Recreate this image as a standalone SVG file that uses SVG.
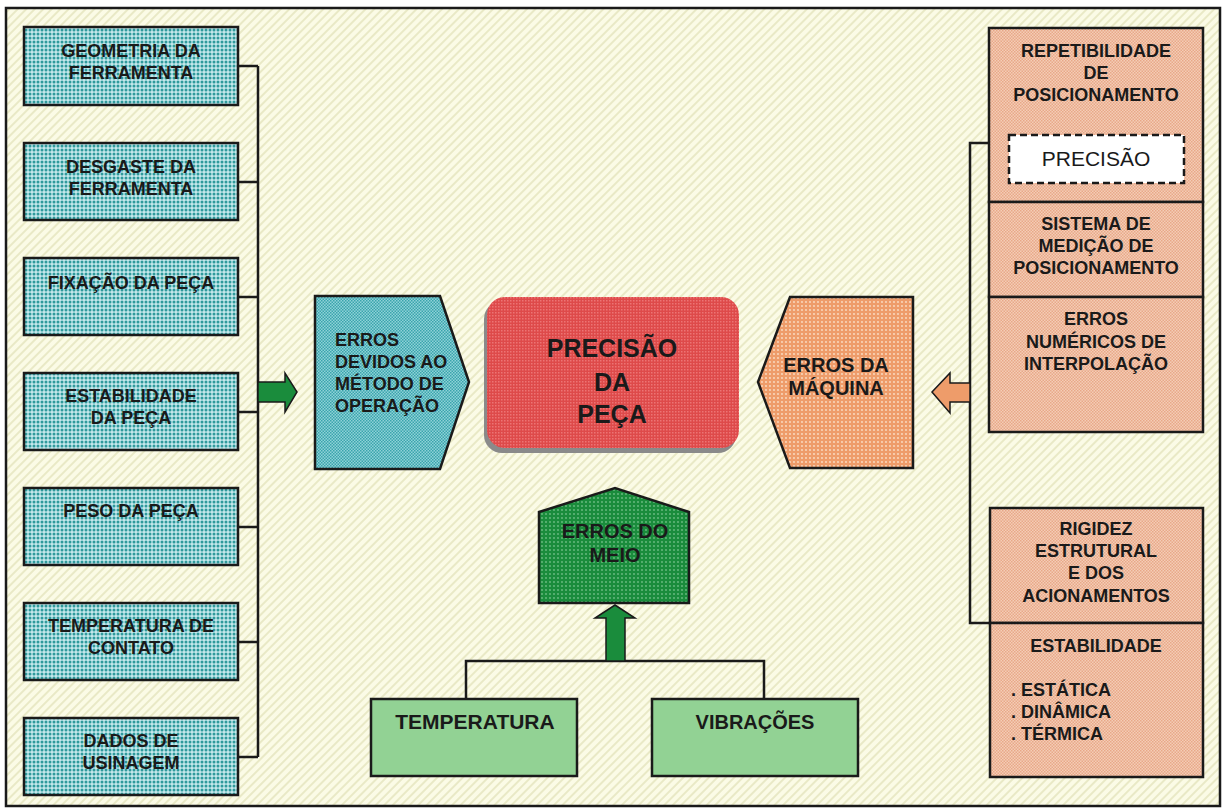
<svg xmlns="http://www.w3.org/2000/svg" width="1224" height="812" viewBox="0 0 1224 812">
<defs>
<pattern id="bg" width="6" height="6" patternUnits="userSpaceOnUse" patternTransform="rotate(45)">
<rect width="6" height="6" fill="#fbfbe6"/>
<rect width="2" height="6" fill="#e9e9c6"/>
</pattern>
<pattern id="pBlue" width="4" height="4" patternUnits="userSpaceOnUse">
<rect width="4" height="4" fill="#c4e8ec"/>
<circle cx="2" cy="2" r="1.5" fill="#2f9a9c"/>
</pattern>
<pattern id="pHex" width="3" height="3" patternUnits="userSpaceOnUse">
<rect width="3" height="3" fill="#8fd2d8"/>
<rect width="1.5" height="1.5" fill="#3aa4ac"/>
<rect x="1.5" y="1.5" width="1.5" height="1.5" fill="#3aa4ac"/>
</pattern>
<pattern id="pRed" width="3" height="3" patternUnits="userSpaceOnUse">
<rect width="3" height="3" fill="#de4a4a"/>
<rect width="1.5" height="1.5" fill="#ec7474"/>
</pattern>
<pattern id="pOrg" width="4" height="4" patternUnits="userSpaceOnUse">
<rect width="4" height="4" fill="#ee9c6a"/>
<circle cx="2" cy="2" r="0.9" fill="#fbe0c8"/>
</pattern>
<pattern id="pSal" width="3" height="3" patternUnits="userSpaceOnUse">
<rect width="3" height="3" fill="#f4cdb6"/>
<rect width="1.5" height="1.5" fill="#e8a888"/>
<rect x="1.5" y="1.5" width="1.5" height="1.5" fill="#e8a888"/>
</pattern>
<pattern id="pGrn" width="4" height="4" patternUnits="userSpaceOnUse">
<rect width="4" height="4" fill="#1a8c3c"/>
<circle cx="2" cy="2" r="0.7" fill="#b8e8c4"/>
</pattern>
</defs>
<style>
.box{stroke:#1a1a1a;stroke-width:2.5}
.ln{fill:none;stroke:#1a1a1a;stroke-width:2.5}
text{font-family:"Liberation Sans",Arial,sans-serif;font-weight:bold;fill:#1a1a1a;text-anchor:middle}
.s18{font-size:18px}
.s20{font-size:20px}
.s25{font-size:25px}
.lt{text-anchor:start}
</style>
<rect x="0" y="0" width="1224" height="812" fill="#ffffff"/>
<rect x="6" y="8" width="1214" height="798" fill="url(#bg)" stroke="#1a1a1a" stroke-width="2.5"/>

<g id="connectors">
<path class="ln" d="M238 66H258M238 182H258M238 297H258M238 412H258M238 527H258M238 642H258M238 757H258M258 66V757"/>
<path class="ln" d="M988 143H970V623H990"/>
<path class="ln" d="M466 699V661H764V699"/>
<path d="M258 382H285V373L297 392L285 412V402H258Z" fill="#1a8c3c" stroke="#1a1a1a" stroke-width="1.5"/>
<path d="M970 383H950V373L932 392L950 413V402H970Z" fill="#ee9c6a" stroke="#1a1a1a" stroke-width="1.5"/>
<path d="M606 661V618H595L615 605L635 618H625V661Z" fill="#1a8c3c" stroke="#1a1a1a" stroke-width="1.5"/>
</g>

<g id="n-geometria"><rect class="box" x="24" y="27" width="214" height="78" fill="url(#pBlue)"/><text class="s18" x="131" y="57">GEOMETRIA DA</text><text class="s18" x="131" y="79">FERRAMENTA</text></g>
<g id="n-desgaste"><rect class="box" x="24" y="143" width="214" height="77" fill="url(#pBlue)"/><text class="s18" x="131" y="173">DESGASTE DA</text><text class="s18" x="131" y="195">FERRAMENTA</text></g>
<g id="n-fixacao"><rect class="box" x="24" y="258" width="214" height="77" fill="url(#pBlue)"/><text class="s18" x="131" y="289">FIXAÇÃO DA PEÇA</text></g>
<g id="n-estab-peca"><rect class="box" x="24" y="373" width="214" height="77" fill="url(#pBlue)"/><text class="s18" x="131" y="402">ESTABILIDADE</text><text class="s18" x="131" y="424">DA PEÇA</text></g>
<g id="n-peso"><rect class="box" x="24" y="488" width="214" height="77" fill="url(#pBlue)"/><text class="s18" x="131" y="517">PESO DA PEÇA</text></g>
<g id="n-temp-contato"><rect class="box" x="24" y="603" width="214" height="77" fill="url(#pBlue)"/><text class="s18" x="131" y="632">TEMPERATURA DE</text><text class="s18" x="131" y="654">CONTATO</text></g>
<g id="n-dados"><rect class="box" x="24" y="718" width="214" height="77" fill="url(#pBlue)"/><text class="s18" x="131" y="747">DADOS DE</text><text class="s18" x="131" y="769">USINAGEM</text></g>

<g id="n-metodo"><path class="box" d="M315 296H440L469 382L440 469H315Z" fill="url(#pHex)"/>
<text class="s18 lt" x="335" y="346">ERROS</text><text class="s18 lt" x="335" y="368">DEVIDOS AO</text><text class="s18 lt" x="335" y="390">MÉTODO DE</text><text class="s18 lt" x="335" y="412">OPERAÇÃO</text></g>

<g id="n-precisao-peca"><rect x="484" y="301" width="252" height="152" rx="18" fill="#8a8a8a"/>
<rect x="487" y="297" width="252" height="151" rx="18" fill="url(#pRed)"/>
<text class="s25" x="612" y="357">PRECISÃO</text><text class="s25" x="612" y="391">DA</text><text class="s25" x="612" y="423">PEÇA</text></g>

<g id="n-maquina"><path class="box" d="M790 297H913V468H790L758 382Z" fill="url(#pOrg)"/>
<text class="s20" x="836" y="372">ERROS DA</text><text class="s20" x="836" y="395">MÁQUINA</text></g>

<g id="n-repetibilidade"><rect class="box" x="989" y="28" width="214" height="174" fill="url(#pSal)"/>
<text class="s18" x="1096" y="57">REPETIBILIDADE</text><text class="s18" x="1096" y="79">DE</text><text class="s18" x="1096" y="101">POSICIONAMENTO</text></g>
<g id="n-precisao"><rect x="1009" y="135" width="175" height="48" fill="#ffffff" stroke="#1a1a1a" stroke-width="2.5" stroke-dasharray="7 4"/>
<text x="1096" y="166" style="font-size:21px;font-weight:normal">PRECISÃO</text></g>
<g id="n-sistema"><rect class="box" x="989" y="202" width="214" height="95" fill="url(#pSal)"/>
<text class="s18" x="1096" y="230">SISTEMA DE</text><text class="s18" x="1096" y="252">MEDIÇÃO DE</text><text class="s18" x="1096" y="274">POSICIONAMENTO</text></g>
<g id="n-numericos"><rect class="box" x="989" y="297" width="214" height="135" fill="url(#pSal)"/>
<text class="s18" x="1096" y="325">ERROS</text><text class="s18" x="1096" y="348">NUMÉRICOS DE</text><text class="s18" x="1096" y="370">INTERPOLAÇÃO</text></g>

<g id="n-rigidez"><rect class="box" x="990" y="508" width="213" height="115" fill="url(#pSal)"/>
<text class="s18" x="1096" y="535">RIGIDEZ</text><text class="s18" x="1096" y="557">ESTRUTURAL</text><text class="s18" x="1096" y="579">E DOS</text><text class="s18" x="1096" y="602">ACIONAMENTOS</text></g>
<g id="n-estabilidade"><rect class="box" x="990" y="623" width="213" height="154" fill="url(#pSal)"/>
<text class="s18" x="1096" y="652">ESTABILIDADE</text>
<text class="s18 lt" x="1011" y="696">. ESTÁTICA</text><text class="s18 lt" x="1011" y="718">. DINÂMICA</text><text class="s18 lt" x="1011" y="740">. TÉRMICA</text></g>

<g id="n-meio"><path class="box" d="M539 512L615 488L689 512V603H539Z" fill="url(#pGrn)"/>
<text class="s20" x="615" y="538">ERROS DO</text><text class="s20" x="615" y="562">MEIO</text></g>

<g id="n-temperatura"><rect class="box" x="371" y="699" width="206" height="77" fill="#92d294"/><text x="475" y="729" style="font-size:21px">TEMPERATURA</text></g>
<g id="n-vibracoes"><rect class="box" x="652" y="699" width="206" height="77" fill="#92d294"/><text class="s20" x="755" y="729">VIBRAÇÕES</text></g>
</svg>
